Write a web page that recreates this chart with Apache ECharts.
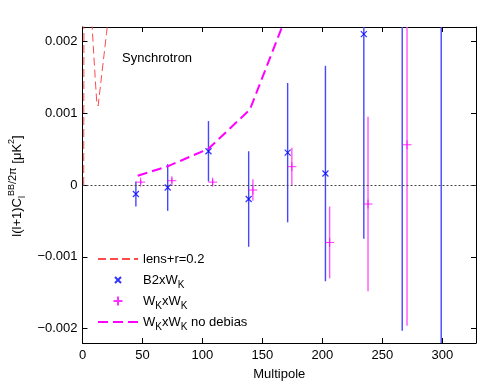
<!DOCTYPE html>
<html lang="en">
<head>
<meta charset="UTF-8">
<title>Synchrotron BB</title>
<script src="https://cdn.jsdelivr.net/npm/echarts@6/dist/echarts.min.js"></script>
<style>
  html, body { margin: 0; padding: 0; background: #fff; }
  #chart { width: 486px; height: 386px; }
</style>
</head>
<body>
<div id="chart"></div>
<script type="text/javascript">
// lens+r=0.2 model curve
var lensL   = [1, 2, 3, 4, 6, 7, 8, 9, 10, 11, 12, 13, 14, 16, 18, 20, 22, 25, 30];
var lensVal = [0, 0.013, 0.009, 0.006, 0.0032, 0.0026, 0.00222, 0.00193, 0.00165, 0.00138, 0.00113, 0.0011, 0.00124, 0.00153, 0.00182, 0.00211, 0.0024, 0.0029, 0.004];

// B2xWK band powers
var b2L   = [44.5, 71, 105, 138.5, 171, 202.5, 234.5, 266.5, 299];
var b2Val = [-0.000125, -0.000035, 0.00047, -0.000195, 0.00045, 0.00016, 0.0021, 0.0030, -0.0025];
var b2Err = [0.000175, 0.000325, 0.00042, 0.000665, 0.00097, 0.0015, 0.00285, 0.00503, 0.006];

// WKxWK band powers
var wkL   = [48.5, 74.5, 108.5, 142, 174.5, 206, 238, 270.5];
var wkVal = [0.00004, 0.00006, 0.00004, -0.00007, 0.000255, -0.0008, -0.000265, 0.00056];
var wkErr = [0.00003, 0.00004, 0.00004, 0.00015, 0.000265, 0.0005, 0.001215, 0.00252];

// WKxWK without noise debias
var ndL   = [46, 71, 105, 139.5, 171, 203];
var ndVal = [0.000128, 0.00026, 0.000505, 0.00105, 0.0024, 0.0045];

var xTicks = [0, 50, 100, 150, 200, 250, 300];
var yTicks = [-0.002, -0.001, 0, 0.001, 0.002];

var FONT = 'Liberation Sans, Arial, Helvetica, sans-serif';

// marker outlines, padded with moveTo corners so the drawn glyph is part of the box
var CROSS = 'path://M0,0M20,20M5,5L15,15M5,15L15,5';
var PLUS  = 'path://M0,0M20,20M10,2.5L10,17.5M2.5,10L17.5,10';

function pairs(xs, ys) {
  return xs.map(function (x, i) { return [x, ys[i]]; });
}
function bars(xs, ys, es) {
  return xs.map(function (x, i) { return [x, ys[i] - es[i], ys[i] + es[i]]; });
}
function errRender(color) {
  return function (params, api) {
    var lo = api.coord([api.value(0), api.value(1)]);
    var hi = api.coord([api.value(0), api.value(2)]);
    return {
      type: 'line',
      shape: { x1: lo[0], y1: lo[1], x2: hi[0], y2: hi[1] },
      style: { stroke: color, lineWidth: 1.4 }
    };
  };
}
function yLabel(v) {
  if (Math.abs(v) < 1e-12) return '0';
  return (v < 0 ? '\u2212' : '') + Math.abs(v).toFixed(3);
}

var legendText = {
  'lens+r=0.2': 'lens+r=0.2',
  'B2xWK': 'B2xW{s|K}',
  'WKxWK': 'W{s|K}xW{s|K}',
  'WKxWK no debias': 'W{s|K}xW{s|K} no debias'
};
var noDot = { color: 'transparent', borderWidth: 0, opacity: 0 };

var myChart = echarts.init(document.getElementById('chart'));

var option = {
  animation: false,
  backgroundColor: '#fff',
  grid: { left: 82.5, right: 10, top: 27, bottom: 40 },
  xAxis: [{
    type: 'value', min: 0, max: 328, position: 'bottom',
    axisLine: { show: true, onZero: false, lineStyle: { color: '#000', width: 1 } },
    axisTick: { show: true, inside: true, length: 5, customValues: xTicks, lineStyle: { color: '#000' } },
    axisLabel: { customValues: xTicks, color: '#000', fontSize: 13, fontFamily: FONT, margin: 6 },
    splitLine: { show: false },
    name: 'Multipole', nameLocation: 'middle', nameGap: 25,
    nameTextStyle: { color: '#000', fontSize: 13, fontFamily: FONT }
  }, {
    type: 'value', min: 0, max: 328, position: 'top',
    axisLine: { show: true, onZero: false, lineStyle: { color: '#000', width: 1 } },
    axisTick: { show: true, inside: true, length: 5, customValues: xTicks, lineStyle: { color: '#000' } },
    axisLabel: { show: false },
    splitLine: { show: false }
  }],
  yAxis: [{
    type: 'value', min: -0.0022, max: 0.0022, position: 'left',
    axisLine: { show: true, onZero: false, lineStyle: { color: '#000', width: 1 } },
    axisTick: { show: true, inside: true, length: 5, customValues: yTicks, lineStyle: { color: '#000' } },
    axisLabel: { customValues: yTicks, color: '#000', fontSize: 13, fontFamily: FONT, margin: 5, formatter: yLabel },
    splitLine: { show: false }
  }, {
    type: 'value', min: -0.0022, max: 0.0022, position: 'right',
    axisLine: { show: true, onZero: false, lineStyle: { color: '#000', width: 1 } },
    axisTick: { show: true, inside: true, length: 5, customValues: yTicks, lineStyle: { color: '#000' } },
    axisLabel: { show: false },
    splitLine: { show: false }
  }],
  legend: {
    orient: 'vertical', left: 92, top: 244,
    itemWidth: 40, itemHeight: 12, itemGap: 1,
    data: [
      { name: 'lens+r=0.2', itemStyle: noDot },
      { name: 'B2xWK' },
      { name: 'WKxWK' },
      { name: 'WKxWK no debias', itemStyle: noDot }
    ],
    formatter: function (name) { return legendText[name]; },
    textStyle: {
      color: '#000', fontSize: 13, fontFamily: FONT, lineHeight: 20,
      rich: { s: { fontSize: 10, fontFamily: FONT, lineHeight: 9, verticalAlign: 'bottom' } }
    }
  },
  graphic: [{
    type: 'text', left: 122, top: 52,
    style: { text: 'Synchrotron', fill: '#000', fontSize: 13, fontFamily: FONT }
  }, {
    type: 'text', x: 17, y: 186, rotation: Math.PI / 2,
    style: {
      text: 'l(l+1)C{sub|l}{sup|BB}{mid|/2\u03c0} [\u03bcK{sup|2}]',
      fill: '#000', fontSize: 13, fontFamily: FONT, lineHeight: 20,
      align: 'center', verticalAlign: 'middle',
      rich: {
        sup: { fontSize: 9, fontFamily: FONT, lineHeight: 9, verticalAlign: 'top' },
        sub: { fontSize: 9, fontFamily: FONT, lineHeight: 9, verticalAlign: 'bottom' },
        mid: { fontSize: 11, fontFamily: FONT, lineHeight: 15, verticalAlign: 'top' }
      }
    }
  }],
  series: [{
    name: 'lens+r=0.2', type: 'line', symbol: 'none', clip: true,
    data: pairs(lensL, lensVal),
    lineStyle: { color: '#ff4a4a', width: 1, type: [8, 4] },
    itemStyle: { color: '#ff4a4a' },
    markLine: {
      silent: true, symbol: 'none', label: { show: false },
      lineStyle: { color: '#444', width: 1, type: [2, 2] },
      data: [{ yAxis: 0 }]
    },
    z: 3
  }, {
    name: 'b2err', type: 'custom', clip: true,
    data: bars(b2L, b2Val, b2Err),
    encode: { x: 0, y: [1, 2] },
    renderItem: errRender('#4646ff'),
    z: 2
  }, {
    name: 'B2xWK', type: 'scatter', clip: true,
    data: pairs(b2L, b2Val),
    symbol: CROSS, symbolSize: 12,
    itemStyle: { color: 'none', borderColor: '#0000ff', borderWidth: 1.2 },
    z: 4
  }, {
    name: 'wkerr', type: 'custom', clip: true,
    data: bars(wkL, wkVal, wkErr),
    encode: { x: 0, y: [1, 2] },
    renderItem: errRender('#ff55ff'),
    z: 2
  }, {
    name: 'WKxWK', type: 'scatter', clip: true,
    data: pairs(wkL, wkVal),
    symbol: PLUS, symbolSize: 12,
    itemStyle: { color: 'none', borderColor: '#ff00ff', borderWidth: 1 },
    z: 4
  }, {
    name: 'WKxWK no debias', type: 'line', symbol: 'none', clip: true,
    data: pairs(ndL, ndVal),
    lineStyle: { color: '#ff00ff', width: 2, type: [10, 5] },
    itemStyle: { color: '#ff00ff' },
    z: 3
  }]
};
myChart.setOption(option);
</script>
</body>
</html>
